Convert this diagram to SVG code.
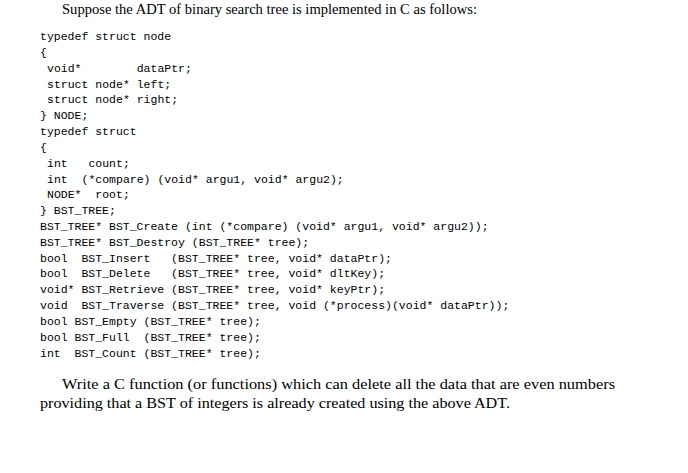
<svg xmlns="http://www.w3.org/2000/svg" width="688" height="473" viewBox="0 0 688 473">
<style>
.s{font-family:"Liberation Serif",serif;font-size:14px;fill:#000}
.m{font-family:"Liberation Mono",monospace;font-size:11.5px;fill:#000;white-space:pre}
</style>
<rect width="688" height="473" fill="#fff"/>
<g id="text">
<text class="s" x="62" y="14" textLength="415" lengthAdjust="spacingAndGlyphs">Suppose the ADT of binary search tree is implemented in C as follows:</text>
<g xml:space="preserve">
<text class="m" x="40" y="40">typedef struct node</text>
<text class="m" x="40" y="56">{</text>
<text class="m" x="47" y="72">void*        dataPtr;</text>
<text class="m" x="47" y="88">struct node* left;</text>
<text class="m" x="47" y="103">struct node* right;</text>
<text class="m" x="40" y="119">} NODE;</text>
<text class="m" x="40" y="135">typedef struct</text>
<text class="m" x="40" y="151">{</text>
<text class="m" x="47" y="167">int   count;</text>
<text class="m" x="47" y="183">int  (*compare) (void* argu1, void* argu2);</text>
<text class="m" x="47" y="198">NODE*  root;</text>
<text class="m" x="40" y="214">} BST_TREE;</text>
<text class="m" x="40" y="230">BST_TREE* BST_Create (int (*compare) (void* argu1, void* argu2));</text>
<text class="m" x="40" y="246">BST_TREE* BST_Destroy (BST_TREE* tree);</text>
<text class="m" x="40" y="262">bool  BST_Insert   (BST_TREE* tree, void* dataPtr);</text>
<text class="m" x="40" y="277">bool  BST_Delete   (BST_TREE* tree, void* dltKey);</text>
<text class="m" x="40" y="293">void* BST_Retrieve (BST_TREE* tree, void* keyPtr);</text>
<text class="m" x="40" y="309">void  BST_Traverse (BST_TREE* tree, void (*process)(void* dataPtr));</text>
<text class="m" x="40" y="325">bool BST_Empty (BST_TREE* tree);</text>
<text class="m" x="40" y="341">bool BST_Full  (BST_TREE* tree);</text>
<text class="m" x="40" y="357">int  BST_Count (BST_TREE* tree);</text>
</g>
<text class="s" x="62" y="389" textLength="553" lengthAdjust="spacingAndGlyphs">Write a C function (or functions) which can delete all the data that are even numbers</text>
<text class="s" x="40" y="408" textLength="470" lengthAdjust="spacingAndGlyphs">providing that a BST of integers is already created using the above ADT.</text>
</g>
</svg>
